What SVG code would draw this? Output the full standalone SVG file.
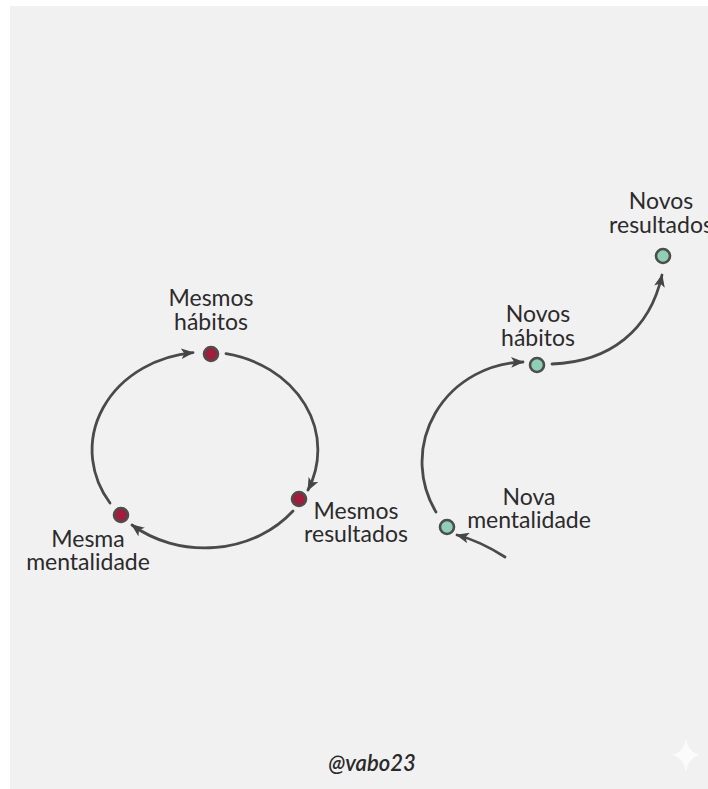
<svg xmlns="http://www.w3.org/2000/svg" width="708" height="789" viewBox="0 0 708 789">
  <defs>
    <marker id="arrow" viewBox="0 0 12 10" refX="11" refY="5" markerWidth="13" markerHeight="11" markerUnits="userSpaceOnUse" orient="auto">
      <path d="M0,0 L12,5 L0,10 L3,5 Z" fill="#454545"/>
    </marker>
    <style>
      .edge { fill: none; stroke: #4a4a4a; stroke-width: 2.8; stroke-linecap: round; marker-end: url(#arrow); }
      .dot { stroke: #4d4d4d; stroke-width: 2.6; }
      .old { fill: #a41c3c; }
      .new { fill: #8fcfb6; }
      .label { font-family: Lato, "Open Sans", "Liberation Sans", sans-serif; font-size: 23px; fill: #2b2b2b; text-anchor: middle; }
      .handle { font-family: Lato, "Liberation Sans", sans-serif; font-size: 22px; font-style: italic; font-weight: 600; fill: #2a2a2a; text-anchor: middle; }
    </style>
  </defs>

  <!-- page background -->
  <rect x="0" y="0" width="708" height="789" fill="#ffffff"/>
  <rect x="10" y="6" width="698" height="783" fill="#f1f1f1"/>

  <!-- connectors -->
  <g id="connectors">
    <!-- closed loop on the left -->
    <path class="edge" d="M226,353.7 A113,98 0 0 1 308,490"/>
    <path class="edge" d="M293,511 A113,98 0 0 1 132,525"/>
    <path class="edge" d="M110,503 A113,98 0 0 1 193,352.6"/>
    <!-- open path on the right -->
    <path class="edge" d="M505,557 Q480,541 457,535"/>
    <path class="edge" d="M436,512 A104,100 0 0 1 523,362"/>
    <path class="edge" d="M552,364 C610,362 650,330 662,275"/>
  </g>

  <!-- left loop nodes -->
  <g id="mesmos-habitos">
    <circle class="dot old" cx="211" cy="354" r="7"/>
    <text class="label" x="211" y="306">Mesmos</text>
    <text class="label" x="211" y="330">hábitos</text>
  </g>
  <g id="mesmos-resultados">
    <circle class="dot old" cx="299" cy="499" r="7"/>
    <text class="label" x="356" y="519">Mesmos</text>
    <text class="label" x="356" y="542">resultados</text>
  </g>
  <g id="mesma-mentalidade">
    <circle class="dot old" cx="121" cy="515" r="7"/>
    <text class="label" x="88" y="547">Mesma</text>
    <text class="label" x="88" y="570">mentalidade</text>
  </g>

  <!-- right path nodes -->
  <g id="nova-mentalidade">
    <circle class="dot new" cx="447" cy="527" r="7"/>
    <text class="label" x="529" y="505">Nova</text>
    <text class="label" x="529" y="528">mentalidade</text>
  </g>
  <g id="novos-habitos">
    <circle class="dot new" cx="537" cy="365" r="7"/>
    <text class="label" x="538" y="322">Novos</text>
    <text class="label" x="538" y="346">hábitos</text>
  </g>
  <g id="novos-resultados">
    <circle class="dot new" cx="663" cy="256" r="7"/>
    <text class="label" x="661" y="209">Novos</text>
    <text class="label" x="661" y="233">resultados</text>
  </g>

  <!-- signature -->
  <text class="handle" x="372" y="771">@vabo23</text>

  <!-- faint sparkle in the corner -->
  <path d="M686,738 Q688,752 700,755 Q688,758 686,772 Q684,758 672,755 Q684,752 686,738 Z" fill="#ffffff" opacity="0.7"/>
</svg>
